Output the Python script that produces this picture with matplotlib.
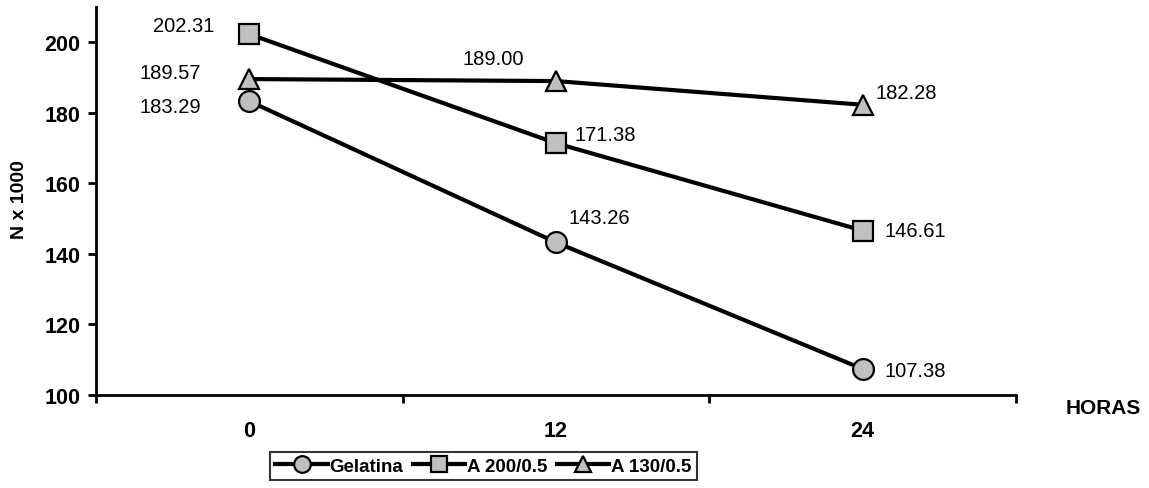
import matplotlib.pyplot as plt

plt.rcParams['font.family'] = ['Liberation Sans', 'DejaVu Sans']

horas = ['0', '12', '24']
gelatina = [183.29, 143.26, 107.38]
a200 = [202.31, 171.38, 146.61]
a130 = [189.57, 189.00, 182.28]

fig = plt.figure(figsize=(11.49, 4.89), dpi=100)
ax = fig.add_axes([96 / 1149, 93 / 489, 920 / 1149, 388 / 489])

x = range(len(horas))
style = dict(color='black', linewidth=3, markerfacecolor='#c0c0c0',
             markeredgecolor='black', markeredgewidth=1.6)
ax.plot(x, gelatina, marker='o', markersize=15, label='Gelatina', **style)
ax.plot(x, a200, marker='s', markersize=15, label='A 200/0.5', **style)
ax.plot(x, a130, marker='^', markersize=15, label='A 130/0.5', **style)

# value labels, offsets in points from each marker
offsets = {
    'gel': [(-35, -4, 'right'), (9, 18, 'left'), (16, -1, 'left')],
    'a200': [(-25, 6, 'right'), (13, 6, 'left'), (16, 0, 'left')],
    'a130': [(-35, 5, 'right'), (-23, 16, 'right'), (9, 9, 'left')],
}
for vals, key in [(gelatina, 'gel'), (a200, 'a200'), (a130, 'a130')]:
    for i, v in enumerate(vals):
        dx, dy, ha = offsets[key][i]
        ax.annotate(f'{v:.2f}', xy=(i, v), xytext=(dx, dy),
                    textcoords='offset points', ha=ha, va='center',
                    fontsize=14.5)

ax.set_xlim(-0.5, 2.5)
ax.set_ylim(100, 210)
ax.set_yticks([100, 120, 140, 160, 180, 200])
ax.set_xticks(list(x))
ax.set_xticklabels(horas)
ax.set_xticks([-0.5, 0.5, 1.5, 2.5], minor=True)
ax.tick_params(axis='x', which='major', length=0, pad=18, labelsize=15.5)
ax.tick_params(axis='x', which='minor', length=6, width=2, direction='out')
ax.tick_params(axis='y', length=6, width=2, direction='out', pad=5, labelsize=15.5)
for lab in ax.get_xticklabels() + ax.get_yticklabels():
    lab.set_fontweight('bold')

for s in ['top', 'right']:
    ax.spines[s].set_visible(False)
for s in ['left', 'bottom']:
    ax.spines[s].set_linewidth(2)

fig.text(20 / 1149, 1 - 200 / 489, 'N x 1000', rotation=90, ha='center',
         va='center', fontsize=14, fontweight='bold')
fig.text(1103 / 1149, 1 - 409 / 489, 'HORAS', ha='center', va='center',
         fontsize=15, fontweight='bold')

leg = fig.legend(loc='center', bbox_to_anchor=(483.5 / 1149, 1 - 467 / 489),
                 ncol=3, frameon=True, fancybox=False, edgecolor='black',
                 handlelength=2.8, handletextpad=0.1, columnspacing=0.5,
                 borderpad=0.3, prop={'size': 13.5, 'weight': 'bold'},
                 markerscale=0.8)
leg.get_frame().set_linewidth(1.5)

fig.savefig('out.png', dpi=100)
